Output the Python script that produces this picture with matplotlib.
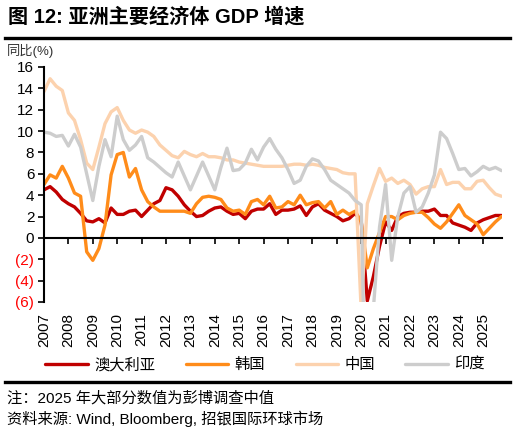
import matplotlib
matplotlib.use("Agg")
import matplotlib.pyplot as plt
from matplotlib.lines import Line2D
from matplotlib.ticker import FuncFormatter
import pandas as pd

plt.rcParams['font.family'] = ['Liberation Sans', 'Noto Sans CJK SC', 'DejaVu Sans']

quarters = pd.period_range('2007Q1', '2025Q4', freq='Q')

australia = [4.5, 4.8, 4.3, 3.6,  3.2, 2.9, 2.3, 1.6,  1.5, 1.8, 1.4, 2.8,
             2.2, 2.2, 2.5, 2.6,  2.0, 2.6, 3.2, 3.5,  4.7, 4.5, 3.9, 3.1,
             2.5, 2.0, 2.1, 2.5,  2.8, 2.9, 2.5, 2.2,  2.3, 1.8, 2.5, 2.7,
             2.7, 3.2, 2.2, 2.6,  2.6, 2.7, 3.0, 2.1,  2.9, 3.2, 2.6, 2.3,
             2.0, 1.6, 1.8, 2.3,  1.6, -5.9, -3.6, -0.8, 1.5, 0.7, 2.0, 2.3,
             2.4, 2.4, 2.5, 2.5,  2.7, 2.1, 2.1, 1.4,  1.2, 1.0, 0.7, 1.4,
             1.7, 1.9, 2.1, 2.1]
korea = [5.0, 5.9, 5.6, 6.7,  5.6, 4.2, 3.9, -1.3,  -2.1, -1.0, 1.2, 5.9,
         7.8, 8.0, 5.7, 6.5,  4.5, 3.4, 2.9, 2.5,  2.5, 2.5, 2.5, 2.5,
         2.3, 3.2, 3.8, 3.9,  3.8, 3.6, 2.8, 2.5,  2.6, 2.2, 3.4, 3.6,
         3.1, 3.9, 2.8, 2.9,  3.4, 3.1, 4.0, 3.1,  3.3, 3.4, 2.8, 3.4,
         2.2, 2.6, 2.2, 2.5,  1.5, -2.8, -1.0, 0.5,  2.0, 2.0, 1.7, 2.1,
         2.3, 2.4, 2.4, 1.9,  1.3, 0.9, 1.5, 2.3,  3.1, 2.1, 1.7, 1.3,
         0.3, 0.9, 1.5, 2.0]
china = [13.7, 14.9, 14.2, 13.8,  11.7, 11.0, 9.2, 7.0,  6.4, 8.5, 10.7, 11.8,
         12.2, 11.0, 10.1, 9.8,  10.1, 9.9, 9.5, 8.7,  8.2, 7.7, 7.5, 8.1,
         7.8, 7.6, 7.9, 7.6,  7.6, 7.5, 7.3, 7.3,  7.1, 7.0, 6.9, 6.8,
         6.7, 6.7, 6.7, 6.7,  6.8, 6.9, 6.9, 6.8,  6.9, 6.8, 6.6, 6.5,
         6.4, 6.1, 6.0, 6.0,  -6.8, 3.2, 4.9, 6.5,  5.3, 5.6, 5.1, 5.4,
         5.0, 4.1, 4.6, 4.8,  4.8, 6.4, 5.0, 5.2,  5.2, 4.6, 4.6, 5.3,
         5.4, 4.7, 4.1, 3.9]
india = [9.9, 9.8, 9.5, 9.6,  8.6, 9.7, 8.5, 6.0,  3.5, 6.7, 9.2, 7.6,
         11.4, 9.2, 8.2, 8.7,  9.5, 7.5, 7.1, 6.6,  6.1, 5.7, 7.1, 5.8,
         4.5, 5.8, 7.1, 5.8,  4.5, 6.6, 8.4, 6.3,  6.4, 7.0, 8.3, 7.3,
         8.5, 9.3, 8.3, 7.5,  6.4, 5.1, 5.4, 6.7,  7.4, 7.2, 6.4, 5.4,
         5.0, 4.6, 4.2, 3.5,  3.1, -23.9, -6.6, 1.0,  5.0, -2.1, 2.0, 4.2,
         4.8, 2.4, 2.9, 4.2,  5.9, 9.9, 9.3, 7.9,  6.4, 6.5, 5.8, 6.2,
         6.7, 6.4, 6.6, 6.3]

series_names = ['澳大利亚', '韩国', '中国', '印度']
series_values = [australia, korea, china, india]
series_colors = ['#C00000', '#FF8C1A', '#FCD2AE', '#CDCDCD']

year_ticks = list(range(2007, 2026))
y_ticks = list(range(-6, 17, 2))

x = [p.year + (p.quarter - 1) / 4 for p in quarters]

W, H = 516, 437
fig = plt.figure(figsize=(W / 100, H / 100), dpi=100)
ax = fig.add_axes([44 / W, 1 - 302 / H, (501.5 - 44) / W, (302 - 67) / H])

for name, vals, col in zip(series_names, series_values, series_colors):
    ax.plot(x, vals, color=col, lw=2.4, label=name, solid_joinstyle='round',
            solid_capstyle='round')

ax.set_xlim(x[0], x[-1])
ax.set_ylim(-6, 16)
ax.set_yticks(y_ticks)
ax.set_xticks(year_ticks)
ax.yaxis.set_major_formatter(FuncFormatter(lambda v, p: f"({abs(int(round(v)))})" if v < 0 else f"{int(round(v))}"))

for s in ['top', 'right']:
    ax.spines[s].set_visible(False)
ax.spines['bottom'].set_position(('data', 0))
ax.spines['left'].set_linewidth(1.5)
ax.spines['bottom'].set_linewidth(1.5)
ax.tick_params(axis='both', direction='out', length=4, width=1.2, labelsize=11)
ax.tick_params(axis='x', pad=50, labelrotation=90)
ax.tick_params(axis='y', pad=3)

fig.canvas.draw()
for lab in ax.get_yticklabels():
    if lab.get_text().startswith('('):
        lab.set_color('#FF0000')

# header/footer
fig.text(8 / W, 1 - 17 / H, '图 12: 亚洲主要经济体 GDP 增速', fontsize=14.5,
         fontweight='bold', va='center', ha='left')
fig.add_artist(Line2D([5 / W, 510 / W], [1 - 37.5 / H, 1 - 37.5 / H], color='black', lw=2.4))
fig.text(7 / W, 1 - 51 / H, '同比(%)', fontsize=9.5, va='center', ha='left', color='#333333')

leg = fig.legend(loc='center', bbox_to_anchor=(265 / W, 1 - 365 / H), ncol=4,
                 frameon=False, fontsize=11, handlelength=2.8, columnspacing=2.0,
                 handletextpad=0.4)

fig.add_artist(Line2D([5 / W, 510 / W], [1 - 381.5 / H, 1 - 381.5 / H], color='black', lw=2.4))
fig.text(7 / W, 1 - 398 / H, '注：2025 年大部分数值为彭博调查中值', fontsize=11,
         va='center', ha='left')
fig.text(7 / W, 1 - 419 / H, '资料来源: Wind, Bloomberg, 招银国际环球市场', fontsize=11,
         va='center', ha='left')

fig.savefig('out.png', dpi=100)
